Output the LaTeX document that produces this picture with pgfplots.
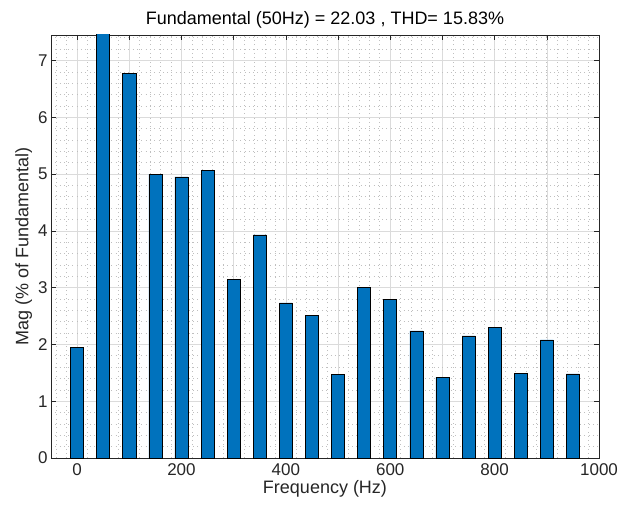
\documentclass[border=0pt]{standalone}
\usepackage{pgfplots}
\pgfplotsset{compat=1.18}
\usepackage{fontspec}
\setmainfont{Liberation Sans}
\definecolor{mblue}{RGB}{0,114,189}
\definecolor{axgray}{RGB}{38,38,38}
\begin{document}
\begin{tikzpicture}
\begin{axis}[
  at={(0,0)}, anchor=south west,
  scale only axis, width=548pt, height=423pt,
  xmin=-50, xmax=1000, ymin=0, ymax=7.45,
  xtick={0,100,...,1000},
  xticklabels={0,,200,,400,,600,,800,,1000},
  ytick={0,1,...,7},
  minor xtick={-40,-20,...,980},
  minor ytick={0.2,0.4,...,7.4},
  minor tick length=0pt,
  major tick length=5pt,
  tick align=inside,
  xtick pos=both, ytick pos=both,
  grid=both,
  major grid style={line width=0.5pt, color=black!14},
  minor grid style={line width=0.7pt, color=black!25, dash pattern=on 0.7pt off 3.6pt},
  axis line style={axgray, line width=0.6pt},
  tick style={axgray, line width=0.6pt},
  /pgf/number format/assume math mode=true,
  tick label style={font=\fontsize{17}{20}\selectfont, text=axgray},
  label style={font=\fontsize{18}{21}\selectfont, text=axgray},
  title style={font=\fontsize{18}{21}\selectfont, text=black, yshift=-3pt},
  title={Fundamental (50Hz) = 22.03 , THD= 15.83\%},
  xlabel={Frequency (Hz)},
  ylabel={Mag (\% of Fundamental)},
  xticklabel style={yshift=-2pt},
  xlabel style={yshift=2pt},
  ylabel style={yshift=-1pt},
]
\addplot[ybar, bar width=25, fill=mblue, draw=black, line width=0.6pt, bar shift=0pt] coordinates {
(0,1.95) (50,100) (100,6.77) (150,5.00) (200,4.95) (250,5.06)
(300,3.15) (350,3.93) (400,2.73) (450,2.51) (500,1.47)
(550,3.01) (600,2.79) (650,2.24) (700,1.42) (750,2.15)
(800,2.30) (850,1.49) (900,2.08) (950,1.48)
};
\end{axis}
\pgfresetboundingbox
\path (-51pt,-48pt) rectangle (567pt,458pt);
\end{tikzpicture}
\end{document}
